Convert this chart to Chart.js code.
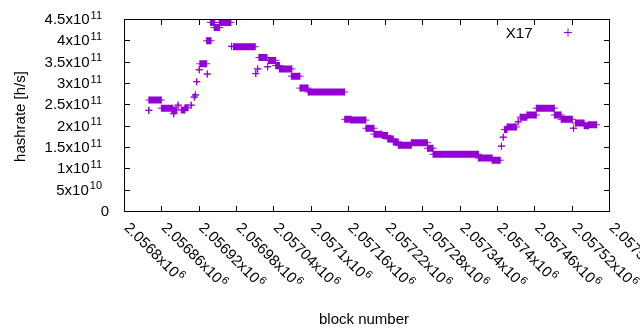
<!DOCTYPE html>
<html>
<head>
<meta charset="utf-8">
<script src="https://cdn.jsdelivr.net/npm/chart.js@4.4.1/dist/chart.umd.min.js"></script>
<style>
  html, body { margin: 0; padding: 0; background: #fff; }
  #wrap { position: relative; width: 640px; height: 330px; }
  canvas { display: block; }
  .frame, .tick { position: absolute; pointer-events: none; box-sizing: border-box; }
  .frame { border: 1px solid #000; }
  .tick { background: #000; }
</style>
</head>
<body>
<div id="wrap">
  <canvas id="hashChart" width="640" height="330"></canvas>
</div>
<script>
// runs of (nearly) constant hashrate: first block, last block, h/s
const runStart = [2056840, 2056840, 2056860, 2056877, 2056880, 2056887, 2056892, 2056898, 2056908, 2056913,
  2056915, 2056917, 2056921, 2056922, 2056934, 2056933, 2056939, 2056945, 2056953, 2056973,
  2056976, 2057012, 2057015, 2057017, 2057031, 2057032, 2057044, 2057050, 2057069, 2057083,
  2057096, 2057155, 2057165, 2057189, 2057202, 2057215, 2057224, 2057233, 2057241, 2057262,
  2057288, 2057297, 2057370, 2057392, 2057407, 2057410, 2057412, 2057416, 2057434, 2057437,
  2057448, 2057463, 2057492, 2057503, 2057523, 2057526, 2057540, 2057547];
const runEnd = [2056840, 2056860, 2056878, 2056885, 2056880, 2056887, 2056898, 2056903, 2056908, 2056913,
  2056915, 2056917, 2056921, 2056933, 2056934, 2056940, 2056946, 2056954, 2056972, 2056973,
  2057011, 2057012, 2057015, 2057030, 2057031, 2057044, 2057050, 2057070, 2057083, 2057096,
  2057155, 2057165, 2057189, 2057202, 2057215, 2057224, 2057233, 2057241, 2057262, 2057288,
  2057297, 2057370, 2057392, 2057405, 2057407, 2057410, 2057416, 2057431, 2057434, 2057448,
  2057463, 2057492, 2057503, 2057521, 2057523, 2057540, 2057547, 2057560];
const runRate = [2.36e11, 2.60e11, 2.41e11, 2.37e11, 2.28e11, 2.48e11, 2.37e11, 2.42e11, 2.48e11, 2.67e11,
  2.72e11, 3.03e11, 3.31e11, 3.45e11, 3.21e11, 3.99e11, 4.42e11, 4.30e11, 4.42e11, 3.86e11,
  3.85e11, 3.22e11, 3.33e11, 3.60e11, 3.38e11, 3.53e11, 3.41e11, 3.33e11, 3.16e11, 2.88e11,
  2.79e11, 2.15e11, 2.13e11, 1.94e11, 1.80e11, 1.77e11, 1.69e11, 1.62e11, 1.54e11, 1.60e11,
  1.47e11, 1.33e11, 1.24e11, 1.19e11, 1.52e11, 1.73e11, 1.91e11, 1.97e11, 2.09e11, 2.20e11,
  2.25e11, 2.41e11, 2.25e11, 2.15e11, 1.94e11, 2.06e11, 2.00e11, 2.02e11];

const xTickValues = [2056800, 2056860, 2056920, 2056980, 2057040, 2057100, 2057160,
  2057220, 2057280, 2057340, 2057400, 2057460, 2057520, 2057580];
const xTickLabels = ["2.0568x10^6", "2.05686x10^6", "2.05692x10^6", "2.05698x10^6", "2.05704x10^6",
  "2.0571x10^6", "2.05716x10^6", "2.05722x10^6", "2.05728x10^6", "2.05734x10^6",
  "2.0574x10^6", "2.05746x10^6", "2.05752x10^6", "2.05758x10^6"];
const yTickValues = [0, 5e10, 1e11, 1.5e11, 2e11, 2.5e11, 3e11, 3.5e11, 4e11, 4.5e11];
const yTickLabels = ["0", "5x10^10", "1x10^11", "1.5x10^11", "2x10^11", "2.5x10^11",
  "3x10^11", "3.5x10^11", "4x10^11", "4.5x10^11"];
const seriesName = "X17";

const purple = "#9400d3";
const family = '"Liberation Sans", Arial, sans-serif';
const mainFont = "15px " + family;
const supFont = "11px " + family;

// each run becomes a short thick segment with a cross at both ends, null breaks the line
const points = [];
runStart.forEach((s, i) => {
  points.push({ x: s, y: runRate[i] }, { x: runEnd[i], y: runRate[i] }, { x: runEnd[i], y: null });
});

// text with a "^" superscript part, gnuplot enhanced-text style
function drawSup(ctx, label, x, y, align) {
  const parts = label.split("^");
  ctx.font = mainFont;
  const wb = ctx.measureText(parts[0]).width;
  ctx.font = supFont;
  const ws = parts[1] ? ctx.measureText(parts[1]).width + 1 : 0;
  const start = align === "right" ? x - wb - ws : x;
  ctx.textAlign = "left";
  ctx.textBaseline = "alphabetic";
  ctx.font = mainFont;
  ctx.fillText(parts[0], start, y);
  if (parts[1]) {
    ctx.font = supFont;
    ctx.fillText(parts[1], start + wb + 1, y - 5.5);
  }
}

const gnuplotText = {
  id: "gnuplotText",
  afterDraw(chart) {
    const ctx = chart.ctx;
    const x = chart.scales.x, y = chart.scales.y;
    const B = Math.round(y.bottom);
    ctx.save();
    ctx.fillStyle = "#000";

    yTickValues.forEach((v, i) => {
      const label = yTickLabels[i];
      drawSup(ctx, label, label.includes("^") ? 102 : 109, y.getPixelForValue(v) + 5, "right");
    });
    xTickValues.forEach((v, i) => {
      ctx.save();
      ctx.translate(x.getPixelForValue(v) - 0.5, B + 17.5);
      ctx.rotate(Math.PI / 4);
      drawSup(ctx, xTickLabels[i], 0, 0, "left");
      ctx.restore();
    });

    // axis titles
    ctx.font = mainFont;
    ctx.textAlign = "center";
    ctx.textBaseline = "alphabetic";
    ctx.fillText("block number", 364, 323.5);
    ctx.save();
    ctx.translate(24.5, 116.5);
    ctx.rotate(-Math.PI / 2);
    ctx.fillText("hashrate [h/s]", 0, 0);
    ctx.restore();

    // key
    ctx.textAlign = "right";
    ctx.fillText(seriesName, 532.5, 37.5);
    ctx.fillStyle = purple;
    ctx.fillRect(564, 32, 8, 1);
    ctx.fillRect(567.5, 28.5, 1, 8);
    ctx.restore();
  }
};

const chart = new Chart(document.getElementById("hashChart"), {
  type: "line",
  data: {
    datasets: [
      {
        label: seriesName,
        data: points,
        borderColor: purple,
        backgroundColor: purple,
        borderWidth: 7,
        pointStyle: "cross",
        pointRadius: 3.5,
        pointHoverRadius: 3.5,
        pointBorderWidth: 1,
        pointBorderColor: purple,
        spanGaps: false,
        tension: 0,
        fill: false,
      },
    ],
  },
  options: {
    responsive: false,
    animation: false,
    events: [],
    layout: { padding: { left: 124, right: 31, top: 19, bottom: 119 } },
    plugins: {
      legend: { display: false },
      tooltip: { enabled: false },
    },
    scales: {
      x: { type: "linear", display: false, min: 2056800, max: 2057580 },
      y: { display: false, min: 0, max: 4.5e11 },
    },
  },
  plugins: [gnuplotText],
});

// gnuplot box and inward mirrored ticks, placed from the chart's own scales
(function addBox() {
  const wrap = document.getElementById("wrap");
  const x = chart.scales.x, y = chart.scales.y;
  const L = Math.round(x.left), R = Math.round(x.right);
  const T = Math.round(y.top), B = Math.round(y.bottom);
  const tl = 5;
  function piece(cls, left, top, w, h) {
    const d = document.createElement("div");
    d.className = cls;
    d.style.left = left + "px";
    d.style.top = top + "px";
    d.style.width = w + "px";
    d.style.height = h + "px";
    wrap.appendChild(d);
  }
  piece("frame", L, T, R - L + 1, B - T + 1);
  xTickValues.forEach(v => {
    const px = Math.round(x.getPixelForValue(v));
    piece("tick", px, B - tl, 1, tl);
    piece("tick", px, T + 1, 1, tl);
  });
  yTickValues.forEach(v => {
    const py = Math.round(y.getPixelForValue(v));
    piece("tick", L + 1, py, tl, 1);
    piece("tick", R - tl, py, tl, 1);
  });
})();
</script>
</body>
</html>
